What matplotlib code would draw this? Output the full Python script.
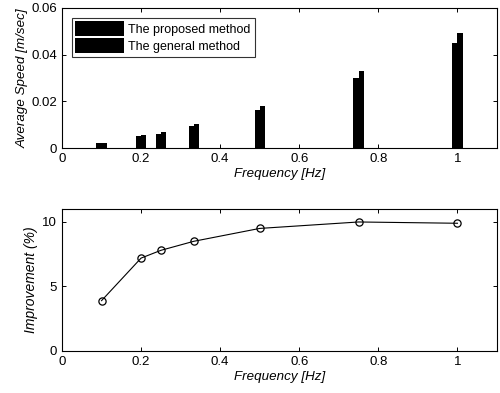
import numpy as np
import matplotlib
matplotlib.use("Agg")
import matplotlib.pyplot as plt

plt.rcParams.update({
    "font.family": "Liberation Sans",
    "font.size": 9,
    "xtick.direction": "in",
    "ytick.direction": "in",
    "xtick.top": True,
    "ytick.right": True,
})

# Data
freq = [0.1, 0.2, 0.25, 0.333, 0.5, 0.75, 1.0]
speed_proposed = [0.0020, 0.0050, 0.0060, 0.0095, 0.0163, 0.0298, 0.0448]
speed_general = [0.0021, 0.0055, 0.0068, 0.0105, 0.0182, 0.0330, 0.0492]
improvement = [3.9, 7.2, 7.8, 8.5, 9.5, 10.0, 9.9]

bar_w = 0.013
x = np.array(freq)

fig = plt.figure(figsize=(5.0, 3.93), dpi=100)
ax1 = fig.add_axes([0.124, 0.623, 0.870, 0.357])
ax2 = fig.add_axes([0.124, 0.107, 0.870, 0.361])

ax1.bar(x - bar_w / 2, speed_proposed, bar_w, color="black", label="The proposed method")
ax1.bar(x + bar_w / 2, speed_general, bar_w, color="black", label="The general method")
ax1.set_xlim(0, 1.1)
ax1.set_ylim(0, 0.06)
ax1.set_xticks([0, 0.2, 0.4, 0.6, 0.8, 1])
ax1.set_xticklabels(["0", "0.2", "0.4", "0.6", "0.8", "1"])
ax1.set_yticks([0, 0.02, 0.04, 0.06])
ax1.set_yticklabels(["0", "0.02", "0.04", "0.06"])
ax1.set_xlabel("Frequency [Hz]", style="italic", fontsize=9.6, labelpad=2)
ax1.set_ylabel("Average Speed [m/sec]", style="italic", fontsize=9.6, labelpad=2)
leg = ax1.legend(loc="upper left", bbox_to_anchor=(0.022, 0.93), fancybox=False,
                 edgecolor="black", handlelength=3.9, handleheight=1.45,
                 borderpad=0.3, labelspacing=0.15, handletextpad=0.35,
                 borderaxespad=0, fontsize=9.0)
leg.get_frame().set_linewidth(0.8)

ax2.plot(freq, improvement, color="black", lw=0.8, marker="o", ms=5.2,
         mfc="none", mec="black", mew=0.9)
ax2.set_xlim(0, 1.1)
ax2.set_ylim(0, 11)
ax2.set_xticks([0, 0.2, 0.4, 0.6, 0.8, 1])
ax2.set_xticklabels(["0", "0.2", "0.4", "0.6", "0.8", "1"])
ax2.set_yticks([0, 5, 10])
ax2.set_xlabel("Frequency [Hz]", style="italic", fontsize=9.6, labelpad=2)
ax2.set_ylabel("Improvement (%)", style="italic", fontsize=10.0, labelpad=3)

for ax in (ax1, ax2):
    for s in ax.spines.values():
        s.set_linewidth(0.8)
    ax.tick_params(length=3, width=0.7, labelsize=9.5)

fig.savefig("out.png", dpi=100)
